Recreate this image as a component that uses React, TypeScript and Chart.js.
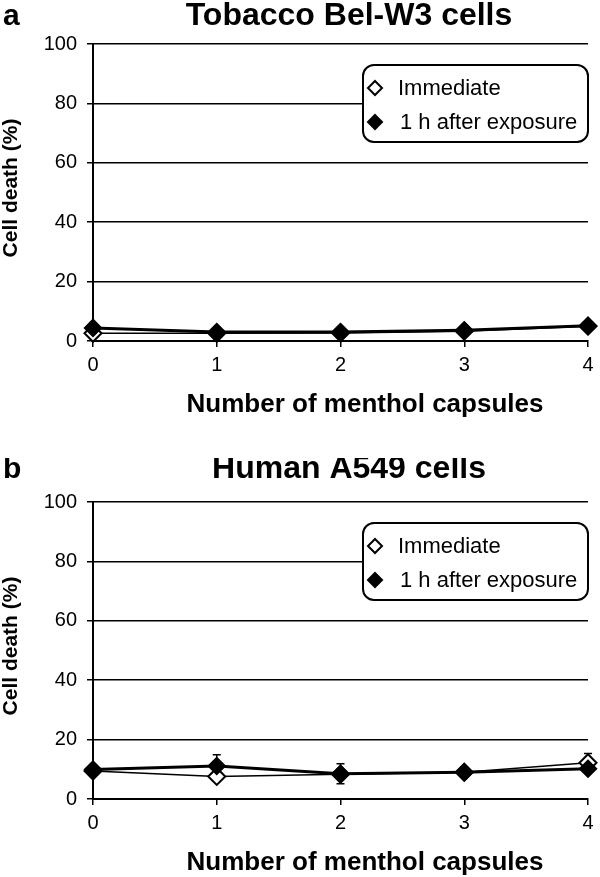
import React, { useEffect, useRef } from "react";
import { Chart, registerables } from "chart.js";

Chart.register(...registerables);

// ---------- data ----------
const categories = ["0", "1", "2", "3", "4"];
const yTickValues = [0, 20, 40, 60, 80, 100];
const seriesLabels = ["Immediate", "1 h after exposure"];
const xAxisTitle = "Number of menthol capsules";
const yAxisTitle = "Cell death (%)";

const tobaccoImmediate = [2.6, 2.6, 2.7, 3.3, 5.0];
const tobaccoAfter1h = [4.4, 3.0, 3.0, 3.6, 5.1];
const tobaccoImmediateErr = [0, 0, 0, 0, 0];
const tobaccoAfter1hErr = [0, 0, 0, 0, 0];

const humanImmediate = [9.4, 7.6, 8.3, 9.0, 12.2];
const humanAfter1h = [9.9, 11.1, 8.5, 9.0, 10.2];
const humanImmediateErr = [0, 0, 0, 0, 3.1];
const humanAfter1hErr = [0, 3.8, 3.4, 0, 0];

const FONT = "'Liberation Sans', Arial, Helvetica, sans-serif";

type PanelProps = {
  letter: string;
  title: string;
  baseline: number;
  immediate: number[];
  after1h: number[];
  immediateErr: number[];
  after1hErr: number[];
  top: number;
};

function diamond(ctx: CanvasRenderingContext2D, x: number, y: number, r: number) {
  ctx.beginPath();
  ctx.moveTo(x, y - r);
  ctx.lineTo(x + r, y);
  ctx.lineTo(x, y + r);
  ctx.lineTo(x - r, y);
  ctx.closePath();
}

function Panel(props: PanelProps) {
  const ref = useRef<HTMLCanvasElement | null>(null);

  useEffect(() => {
    if (!ref.current) return;

    const errorBars = {
      id: "errorBars",
      beforeDatasetsDraw(chart: any) {
        const ctx = chart.ctx as CanvasRenderingContext2D;
        const xs = chart.scales.x;
        const ys = chart.scales.y;
        const sets = [
          { v: props.immediate, e: props.immediateErr },
          { v: props.after1h, e: props.after1hErr },
        ];
        ctx.save();
        ctx.strokeStyle = "#000";
        ctx.lineWidth = 1.5;
        sets.forEach((s) => {
          s.v.forEach((val, i) => {
            const err = s.e[i];
            if (!err) return;
            const x = xs.getPixelForValue(i);
            const y1 = ys.getPixelForValue(val - err);
            const y2 = ys.getPixelForValue(val + err);
            ctx.beginPath();
            ctx.moveTo(x, y1);
            ctx.lineTo(x, y2);
            ctx.moveTo(x - 4, y1);
            ctx.lineTo(x + 4, y1);
            ctx.moveTo(x - 4, y2);
            ctx.lineTo(x + 4, y2);
            ctx.stroke();
          });
        });
        ctx.restore();
      },
    };

    const texts = {
      id: "panelTexts",
      afterDraw(chart: any) {
        const ctx = chart.ctx as CanvasRenderingContext2D;
        const area = chart.chartArea;
        ctx.save();
        ctx.fillStyle = "#000";
        // panel letter
        ctx.font = `bold 30px ${FONT}`;
        ctx.textAlign = "left";
        ctx.textBaseline = "alphabetic";
        ctx.fillText(props.letter, 3, props.baseline);
        // title
        ctx.font = `bold 32px ${FONT}`;
        ctx.textAlign = "center";
        ctx.fillText(props.title, 349, props.baseline);
        // x axis title
        ctx.font = `bold 26px ${FONT}`;
        ctx.textBaseline = "middle";
        ctx.fillText(xAxisTitle, 365, 405);
        // y axis title
        ctx.save();
        ctx.translate(11, 188);
        ctx.rotate(-Math.PI / 2);
        ctx.font = `bold 21px ${FONT}`;
        ctx.fillText(yAxisTitle, 0, 0);
        ctx.restore();

        // legend
        const w = 225;
        const h = 77;
        const lx = area.right - w;
        const ly = area.top + 21;
        ctx.beginPath();
        (ctx as any).roundRect(lx, ly, w, h, 11);
        ctx.fillStyle = "#fff";
        ctx.fill();
        ctx.lineWidth = 2;
        ctx.strokeStyle = "#000";
        ctx.stroke();

        const items = [
          { label: seriesLabels[0], fill: "#fff", y: ly + 23, tx: lx + 35 },
          { label: seriesLabels[1], fill: "#000", y: ly + 57, tx: lx + 37 },
        ];
        items.forEach((it) => {
          diamond(ctx, lx + 12, it.y, 7);
          ctx.fillStyle = it.fill;
          ctx.fill();
          ctx.lineWidth = 2;
          ctx.strokeStyle = "#000";
          ctx.stroke();
          ctx.fillStyle = "#000";
          ctx.font = `22px ${FONT}`;
          ctx.textAlign = "left";
          ctx.textBaseline = "middle";
          ctx.fillText(it.label, it.tx, it.y + 1);
        });
        ctx.restore();
      },
    };

    const chart = new Chart(ref.current, {
      type: "line",
      data: {
        labels: categories,
        datasets: [
          {
            label: seriesLabels[0],
            data: props.immediate,
            borderColor: "#000",
            borderWidth: 1.5,
            pointStyle: "rectRot",
            pointRadius: 8.5,
            pointBackgroundColor: "#fff",
            pointBorderColor: "#000",
            pointBorderWidth: 2,
            tension: 0,
            order: 2,
            clip: false as any,
          },
          {
            label: seriesLabels[1],
            data: props.after1h,
            borderColor: "#000",
            borderWidth: 3,
            pointStyle: "rectRot",
            pointRadius: 8.5,
            pointBackgroundColor: "#000",
            pointBorderColor: "#000",
            pointBorderWidth: 1.5,
            tension: 0,
            order: 1,
            clip: false as any,
          },
        ],
      },
      options: {
        animation: false,
        responsive: false,
        devicePixelRatio: 1,
        layout: { padding: { top: 44, right: 12, left: 0, bottom: 0 } },
        plugins: {
          legend: { display: false },
          tooltip: { enabled: false },
          title: { display: false },
        },
        scales: {
          x: {
            type: "category",
            offset: false,
            grid: {
              display: true,
              drawOnChartArea: false,
              drawTicks: true,
              tickLength: 6,
              color: "#000",
              lineWidth: 1.5,
            },
            border: { display: true, color: "#000", width: 2 },
            ticks: {
              color: "#000",
              font: { family: FONT, size: 20 },
              padding: 6,
              maxRotation: 0,
              autoSkip: false,
            },
            afterFit: (s: any) => {
              s.height = 117;
            },
          },
          y: {
            min: 0,
            max: 100,
            afterBuildTicks: (s: any) => {
              s.ticks = yTickValues.map((v) => ({ value: v }));
            },
            grid: {
              color: "#000",
              lineWidth: 1.5,
              tickLength: 6,
              drawTicks: true,
            },
            border: { display: true, color: "#000", width: 2 },
            ticks: {
              color: "#000",
              font: { family: FONT, size: 20 },
              padding: 10,
            },
            afterFit: (s: any) => {
              s.width = 93;
            },
          },
        },
      } as any,
      plugins: [errorBars, texts],
    });
    return () => chart.destroy();
  }, []);

  return (
    <canvas
      ref={ref}
      width={600}
      height={458}
      style={{ position: "absolute", left: 0, top: props.top, width: 600, height: 458 }}
    />
  );
}

export default function App() {
  return (
    <div
      style={{
        position: "absolute",
        left: 0,
        top: 0,
        width: 600,
        height: 877,
        overflow: "hidden",
        background: "#fff",
      }}
    >
      <Panel
        letter="a"
        title="Tobacco Bel-W3 cells"
        baseline={25}
        immediate={tobaccoImmediate}
        after1h={tobaccoAfter1h}
        immediateErr={tobaccoImmediateErr}
        after1hErr={tobaccoAfter1hErr}
        top={0}
      />
      <Panel
        letter="b"
        title="Human A549 cells"
        baseline={20}
        immediate={humanImmediate}
        after1h={humanAfter1h}
        immediateErr={humanImmediateErr}
        after1hErr={humanAfter1hErr}
        top={458}
      />
    </div>
  );
}
